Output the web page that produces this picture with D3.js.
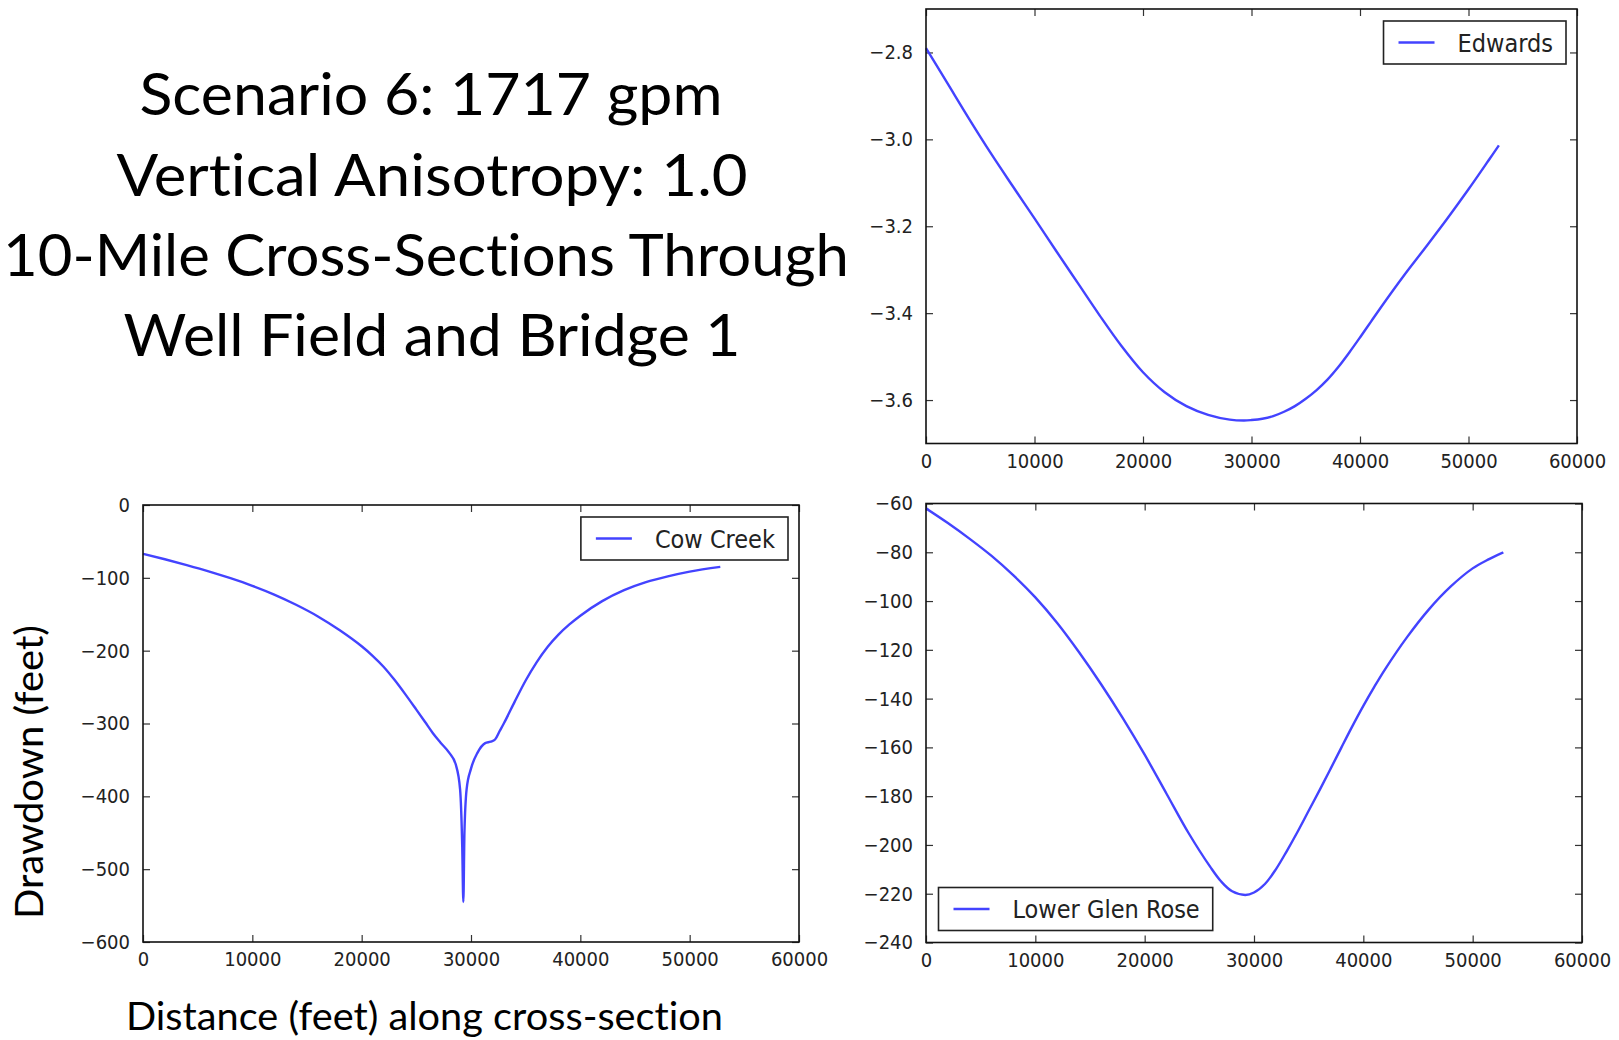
<!DOCTYPE html>
<html>
<head>
<meta charset="utf-8">
<script src="https://cdn.jsdelivr.net/npm/d3@7"></script>
<style>
  html, body { margin: 0; padding: 0; background: #fff; }
  svg { display: block; }
  text { font-variant-ligatures: none; }
  .tick text { font-family: "DejaVu Sans Condensed", "DejaVu Sans", sans-serif; font-stretch: condensed; fill: #222; }
</style>
</head>
<body>
<div id="chart"></div>
<script>
// distance along the cross-section (feet) and drawdown (feet)
const edwardsX = [0, 2000, 4000, 6000, 8000, 10000, 12000, 14000, 16000, 18000, 20000, 22000, 24000, 26000, 28000, 29300, 30000, 31000, 32000, 33000, 34000, 35000, 36000, 37000, 38000, 39000, 40000, 41000, 42000, 44000, 46000, 48000, 50000, 52000, 52800];
const edwardsY = [-2.79, -2.872, -2.954, -3.033, -3.108, -3.182, -3.257, -3.331, -3.405, -3.475, -3.536, -3.582, -3.614, -3.634, -3.645, -3.647, -3.646, -3.643, -3.637, -3.627, -3.614, -3.597, -3.577, -3.553, -3.524, -3.491, -3.456, -3.42, -3.384, -3.315, -3.25, -3.184, -3.115, -3.043, -3.014];

const cowCreekX = [0, 2000, 4000, 6000, 8000, 10000, 12000, 14000, 16000, 18000, 20000, 21000, 22000, 23000, 24000, 25000, 25800, 26500, 27200, 28000, 28600, 29000, 29200, 29300, 29400, 29600, 30000, 30600, 31300, 31800, 32200, 32600, 33000, 34000, 35000, 36000, 37000, 38000, 39000, 40000, 42000, 44000, 46000, 48000, 50000, 52800];
const cowCreekY = [-67, -74.5, -82.5, -91, -100.5, -111, -123, -137, -153, -172, -194, -207, -222, -240, -260, -281, -298, -313, -326, -340, -356, -390, -470, -545, -450, -390, -362, -340, -327, -325, -322, -311, -300, -270, -241, -216, -195, -178, -164, -152, -132, -117, -106, -98, -91.5, -85];

const glenRoseX = [0, 2000, 4000, 6000, 8000, 10000, 12000, 14000, 16000, 18000, 20000, 22000, 24000, 26000, 27000, 28000, 29200, 30000, 31000, 32000, 33000, 34000, 35000, 36000, 37000, 38000, 39000, 40000, 41000, 42000, 44000, 46000, 48000, 50000, 51500, 52800];
const glenRoseY = [-62, -68, -74.5, -81.5, -89.5, -98.5, -109, -121, -134, -148, -163, -179, -195, -209, -215, -219, -220.5, -219.5, -216, -210, -202.5, -194.5, -186, -177.5, -168.8, -160, -151.3, -143, -135.2, -127.9, -114.8, -103.4, -94, -86.6, -82.8, -80];

const xTicks = [0, 10000, 20000, 30000, 40000, 50000, 60000];
const edwardsTicks = [-3.6, -3.4, -3.2, -3.0, -2.8];
const cowCreekTicks = [-600, -500, -400, -300, -200, -100, 0];
const glenRoseTicks = [-240, -220, -200, -180, -160, -140, -120, -100, -80, -60];

const titleLines = ['Scenario 6: 1717 gpm', 'Vertical Anisotropy: 1.0', '10-Mile Cross-Sections Through', 'Well Field and Bridge 1'];

const width = 1619;
const height = 1040;
const lineColor = '#4343ff';

const svg = d3.select('#chart')
  .append('svg')
  .attr('width', width)
  .attr('height', height)
  .attr('viewBox', [0, 0, width, height]);

// slide title
const titleSpots = [
  {x: 431, y: 115, len: 583},
  {x: 432, y: 196, len: 631},
  {x: 426, y: 276, len: 846},
  {x: 432, y: 356, len: 617}
];
svg.append('g')
  .selectAll('text')
  .data(titleLines)
  .join('text')
  .attr('x', (d, i) => titleSpots[i].x)
  .attr('y', (d, i) => titleSpots[i].y)
  .attr('text-anchor', 'middle')
  .attr('textLength', (d, i) => titleSpots[i].len)
  .attr('lengthAdjust', 'spacingAndGlyphs')
  .style('font-family', 'Lato, "Open Sans", sans-serif')
  .style('font-size', '58px')
  .style('fill', '#000')
  .text(d => d);

const panels = [
  {name: 'Edwards', xs: edwardsX, ys: edwardsY, yDomain: [-3.7, -2.7], yTicks: edwardsTicks, fmt: d3.format('.1f'),
    box: {left: 926, right: 1577, top: 9, bottom: 443.5}, legend: 'topright', curve: d3.curveCatmullRom.alpha(0.5)},
  {name: 'Cow Creek', xs: cowCreekX, ys: cowCreekY, yDomain: [-600, 0], yTicks: cowCreekTicks, fmt: d3.format('d'),
    box: {left: 143, right: 799, top: 505, bottom: 942}, legend: 'topright', curve: d3.curveMonotoneX},
  {name: 'Lower Glen Rose', xs: glenRoseX, ys: glenRoseY, yDomain: [-240, -60], yTicks: glenRoseTicks, fmt: d3.format('d'),
    box: {left: 926, right: 1582, top: 503.5, bottom: 942.5}, legend: 'bottomleft', curve: d3.curveCatmullRom.alpha(0.5)}
];

panels.forEach(drawPanel);

function drawPanel (p) {
  const b = p.box;
  const x = d3.scaleLinear().domain([0, 60000]).range([b.left, b.right]);
  const y = d3.scaleLinear().domain(p.yDomain).range([b.bottom, b.top]);
  const g = svg.append('g');

  const tickLen = 7;

  const bottom = g.append('g')
    .attr('transform', `translate(0,${b.bottom})`)
    .call(d3.axisBottom(x).tickValues(xTicks).tickFormat(d3.format('d'))
      .tickSizeInner(-tickLen).tickSizeOuter(0).tickPadding(10));
  const top = g.append('g')
    .attr('transform', `translate(0,${b.top})`)
    .call(d3.axisTop(x).tickValues(xTicks).tickFormat('')
      .tickSizeInner(-tickLen).tickSizeOuter(0));
  const left = g.append('g')
    .attr('transform', `translate(${b.left},0)`)
    .call(d3.axisLeft(y).tickValues(p.yTicks).tickFormat(p.fmt)
      .tickSizeInner(-tickLen).tickSizeOuter(0).tickPadding(13));
  const right = g.append('g')
    .attr('transform', `translate(${b.right},0)`)
    .call(d3.axisRight(y).tickValues(p.yTicks).tickFormat('')
      .tickSizeInner(-tickLen).tickSizeOuter(0));

  [bottom, top, left, right].forEach(a => {
    a.select('.domain').remove();
    a.selectAll('.tick line').attr('stroke', '#333').attr('stroke-width', 1.2);
    a.selectAll('.tick text').style('font-size', '20px');
  });

  const line = d3.line()
    .x((d, i) => x(p.xs[i]))
    .y(d => y(d))
    .curve(p.curve);

  g.append('path')
    .datum(p.ys)
    .attr('fill', 'none')
    .attr('stroke', lineColor)
    .attr('stroke-width', 2.4)
    .attr('stroke-linejoin', 'round')
    .attr('d', line);

  g.append('rect')
    .attr('x', b.left)
    .attr('y', b.top)
    .attr('width', b.right - b.left)
    .attr('height', b.bottom - b.top)
    .attr('fill', 'none')
    .attr('stroke', '#111')
    .attr('stroke-width', 1.6);

  // legend
  const lg = g.append('g');
  const label = lg.append('text')
    .style('font-family', '"DejaVu Sans Condensed", "DejaVu Sans", sans-serif')
    .style('font-stretch', 'condensed')
    .style('font-size', '25px')
    .style('fill', '#222')
    .text(p.name);
  const textW = label.node().getComputedTextLength();
  const boxW = 15 + 36 + 23 + textW + 13;
  const boxH = 43;
  const bx = p.legend === 'topright' ? b.right - 11 - boxW : b.left + 12.5;
  const by = p.legend === 'topright' ? b.top + 12 : b.bottom - 12 - boxH;

  lg.insert('rect', 'text')
    .attr('x', bx)
    .attr('y', by)
    .attr('width', boxW)
    .attr('height', boxH)
    .attr('fill', '#fff')
    .attr('stroke', '#222')
    .attr('stroke-width', 1.6);
  lg.append('line')
    .attr('x1', bx + 15)
    .attr('x2', bx + 51)
    .attr('y1', by + boxH / 2)
    .attr('y2', by + boxH / 2)
    .attr('stroke', lineColor)
    .attr('stroke-width', 2.4);
  label
    .attr('x', bx + 74)
    .attr('y', by + boxH / 2 + 9);
}

// shared axis titles
svg.append('text')
  .attr('transform', 'translate(42.5,772) rotate(-90)')
  .attr('text-anchor', 'middle')
  .attr('textLength', 294)
  .attr('lengthAdjust', 'spacingAndGlyphs')
  .style('font-family', 'Lato, "Open Sans", sans-serif')
  .style('font-size', '39px')
  .text('Drawdown (feet)');

svg.append('text')
  .attr('x', 126)
  .attr('y', 1030)
  .attr('textLength', 597)
  .attr('lengthAdjust', 'spacingAndGlyphs')
  .style('font-family', 'Lato, "Open Sans", sans-serif')
  .style('font-size', '38px')
  .text('Distance (feet) along cross-section');
</script>
</body>
</html>
